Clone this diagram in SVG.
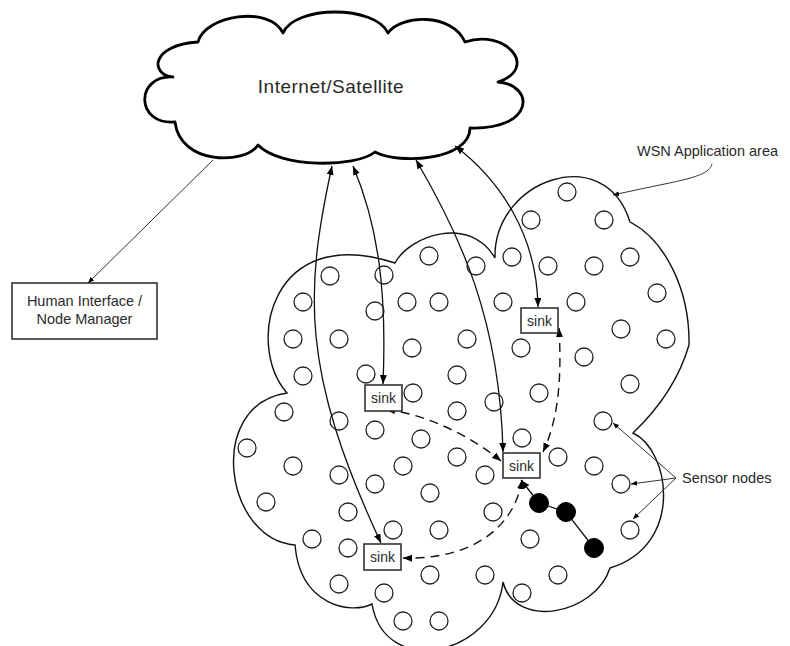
<svg xmlns="http://www.w3.org/2000/svg" width="790" height="646" viewBox="0 0 790 646">
<style>
text{font-family:"Liberation Sans",Arial,sans-serif;fill:#2a2a2a}
.lbl{font-size:14.5px}
.sinkt{font-size:14px;text-anchor:middle}
.sensor{fill:none;stroke:#222;stroke-width:1.3}
.filled{fill:#000;stroke:#000;stroke-width:1}
.box{fill:#fff;stroke:#333;stroke-width:1.6}
.link{fill:none;stroke:#111;stroke-width:1.3}
.dash{fill:none;stroke:#111;stroke-width:1.4;stroke-dasharray:9,6}
.thin{fill:none;stroke:#333;stroke-width:1}
</style>
<defs>
<marker id="ah" markerUnits="userSpaceOnUse" markerWidth="10" markerHeight="8" refX="9" refY="3.5" orient="auto-start-reverse"><path d="M0,0 L9,3.5 L0,7 z" fill="#000"/></marker>
<marker id="as" markerUnits="userSpaceOnUse" markerWidth="7" markerHeight="6" refX="6" refY="2.5" orient="auto-start-reverse"><path d="M0,0 L6,2.5 L0,5 z" fill="#000"/></marker>
</defs>
<rect width="790" height="646" fill="#fff"/>

<g id="wsn-area">
<path d="M287,393 C245,345 270,222 395,263 C410,235 470,215 495,258 C493,180 605,140 630,222 C665,240 690,290 689,345 Q675,393 633,433 C670,450 685,545 610,568 C595,615 515,630 503,582 C495,655 385,680 372,604 C350,615 300,605 295,545 C225,540 205,405 287,393 Z" fill="none" stroke="#111" stroke-width="1.4"/>
</g>

<g id="internet">
<path d="M173,77 C150,75 150,45 198,42 C205,15 270,5 283,33 C295,5 375,5 388,33 C400,15 452,12 465,42 C505,28 540,68 498,82 C535,85 535,130 470,128 C470,160 400,165 375,152 C355,168 280,168 258,145 C245,165 180,165 175,122 C135,125 135,75 173,77 Z" fill="#fff" stroke="#000" stroke-width="2.8" stroke-linejoin="round"/>
<text x="331" y="93" font-size="19" letter-spacing="0.5" text-anchor="middle">Internet/Satellite</text>
</g>

<g id="human-interface">
<rect class="box" x="12" y="283" width="145" height="56"/>
<text class="lbl" x="84.5" y="306" text-anchor="middle">Human Interface /</text>
<text class="lbl" x="84.5" y="324" text-anchor="middle">Node Manager</text>
</g>

<g id="sensors">
<circle class="sensor" cx="567" cy="192" r="9"/>
<circle class="sensor" cx="531" cy="220" r="9"/>
<circle class="sensor" cx="604" cy="220" r="9"/>
<circle class="sensor" cx="429" cy="256" r="9"/>
<circle class="sensor" cx="476" cy="266" r="9"/>
<circle class="sensor" cx="512" cy="257" r="9"/>
<circle class="sensor" cx="548" cy="266" r="9"/>
<circle class="sensor" cx="594" cy="266" r="9"/>
<circle class="sensor" cx="630" cy="257" r="9"/>
<circle class="sensor" cx="330" cy="276" r="9"/>
<circle class="sensor" cx="384" cy="275" r="9"/>
<circle class="sensor" cx="303" cy="302" r="9"/>
<circle class="sensor" cx="375" cy="311" r="9"/>
<circle class="sensor" cx="407" cy="302" r="9"/>
<circle class="sensor" cx="439" cy="302" r="9"/>
<circle class="sensor" cx="503" cy="302" r="9"/>
<circle class="sensor" cx="576" cy="302" r="9"/>
<circle class="sensor" cx="657" cy="293" r="9"/>
<circle class="sensor" cx="293" cy="339" r="9"/>
<circle class="sensor" cx="339" cy="339" r="9"/>
<circle class="sensor" cx="412" cy="348" r="9"/>
<circle class="sensor" cx="467" cy="339" r="9"/>
<circle class="sensor" cx="521" cy="348" r="9"/>
<circle class="sensor" cx="621" cy="329" r="9"/>
<circle class="sensor" cx="666" cy="339" r="9"/>
<circle class="sensor" cx="584" cy="357" r="9"/>
<circle class="sensor" cx="303" cy="376" r="9"/>
<circle class="sensor" cx="366" cy="374" r="9"/>
<circle class="sensor" cx="457" cy="375" r="9"/>
<circle class="sensor" cx="630" cy="384" r="9"/>
<circle class="sensor" cx="413" cy="393" r="9"/>
<circle class="sensor" cx="494" cy="402" r="9"/>
<circle class="sensor" cx="539" cy="393" r="9"/>
<circle class="sensor" cx="284" cy="412" r="9"/>
<circle class="sensor" cx="457" cy="411" r="9"/>
<circle class="sensor" cx="603" cy="421" r="9"/>
<circle class="sensor" cx="339" cy="421" r="9"/>
<circle class="sensor" cx="375" cy="430" r="9"/>
<circle class="sensor" cx="421" cy="439" r="9"/>
<circle class="sensor" cx="522" cy="438" r="9"/>
<circle class="sensor" cx="247" cy="448" r="9"/>
<circle class="sensor" cx="457" cy="457" r="9"/>
<circle class="sensor" cx="558" cy="457" r="9"/>
<circle class="sensor" cx="293" cy="466" r="9"/>
<circle class="sensor" cx="403" cy="466" r="9"/>
<circle class="sensor" cx="594" cy="466" r="9"/>
<circle class="sensor" cx="339" cy="475" r="9"/>
<circle class="sensor" cx="485" cy="475" r="9"/>
<circle class="sensor" cx="621" cy="484" r="9"/>
<circle class="sensor" cx="375" cy="484" r="9"/>
<circle class="sensor" cx="430" cy="493" r="9"/>
<circle class="sensor" cx="266" cy="502" r="9"/>
<circle class="sensor" cx="348" cy="512" r="9"/>
<circle class="sensor" cx="493" cy="512" r="9"/>
<circle class="sensor" cx="630" cy="530" r="9"/>
<circle class="sensor" cx="393" cy="530" r="9"/>
<circle class="sensor" cx="439" cy="530" r="9"/>
<circle class="sensor" cx="530" cy="539" r="9"/>
<circle class="sensor" cx="312" cy="539" r="9"/>
<circle class="sensor" cx="348" cy="548" r="9"/>
<circle class="sensor" cx="430" cy="575" r="9"/>
<circle class="sensor" cx="485" cy="575" r="9"/>
<circle class="sensor" cx="558" cy="575" r="9"/>
<circle class="sensor" cx="339" cy="584" r="9"/>
<circle class="sensor" cx="384" cy="593" r="9"/>
<circle class="sensor" cx="522" cy="593" r="9"/>
<circle class="sensor" cx="403" cy="621" r="9"/>
<circle class="sensor" cx="439" cy="621" r="9"/>
</g>

<g id="connectors">
<path class="thin" d="M213,160 L88,283" marker-end="url(#as)"/>
<path class="link" d="M332,166 C305,290 300,370 381,543" marker-start="url(#ah)" marker-end="url(#ah)"/>
<path class="link" d="M353,166 C378,225 387,290 383,384" marker-start="url(#ah)" marker-end="url(#ah)"/>
<path class="link" d="M416,160 C460,235 500,320 503,452" marker-start="url(#ah)" marker-end="url(#ah)"/>
<path class="link" d="M455,146 C500,180 537,235 538,307" marker-start="url(#ah)" marker-end="url(#ah)"/>
<path class="dash" d="M559,328 C562,380 558,420 543,452" marker-start="url(#ah)" marker-end="url(#ah)"/>
<path class="dash" d="M386,410 C420,412 470,435 501,461" marker-start="url(#ah)" marker-end="url(#ah)"/>
<path class="dash" d="M522,480 C515,525 475,560 403,558" marker-start="url(#ah)" marker-end="url(#ah)"/>
<path class="link" d="M594,548 L566,512 L539,503"/>
<path class="link" d="M539,503 L521,480" marker-end="url(#ah)"/>
<path class="thin" d="M712,164 C708,178 680,180 613,195" marker-end="url(#as)"/>
<path class="thin" d="M676,478 L613,423" marker-end="url(#as)"/>
<path class="thin" d="M676,478 L631,484" marker-end="url(#as)"/>
<path class="thin" d="M676,478 L633,519" marker-end="url(#as)"/>
</g>

<g id="active-nodes">
<circle class="filled" cx="539" cy="503" r="9.5"/>
<circle class="filled" cx="566" cy="512" r="9.5"/>
<circle class="filled" cx="594" cy="548" r="9.5"/>
</g>

<g id="sink-1">
<rect class="box" x="521" y="308" width="37" height="25"/>
<text class="sinkt" x="539.5" y="326">sink</text>
</g>
<g id="sink-2">
<rect class="box" x="365" y="385" width="37" height="26"/>
<text class="sinkt" x="383.5" y="403">sink</text>
</g>
<g id="sink-3">
<rect class="box" x="503" y="453" width="37" height="25"/>
<text class="sinkt" x="521.5" y="471">sink</text>
</g>
<g id="sink-4">
<rect class="box" x="364" y="544" width="37" height="26"/>
<text class="sinkt" x="382.5" y="562">sink</text>
</g>

<g id="label-wsn">
<text class="lbl" x="637" y="156">WSN Application area</text>
</g>
<g id="label-sensor">
<text class="lbl" x="682" y="483">Sensor nodes</text>
</g>
</svg>
